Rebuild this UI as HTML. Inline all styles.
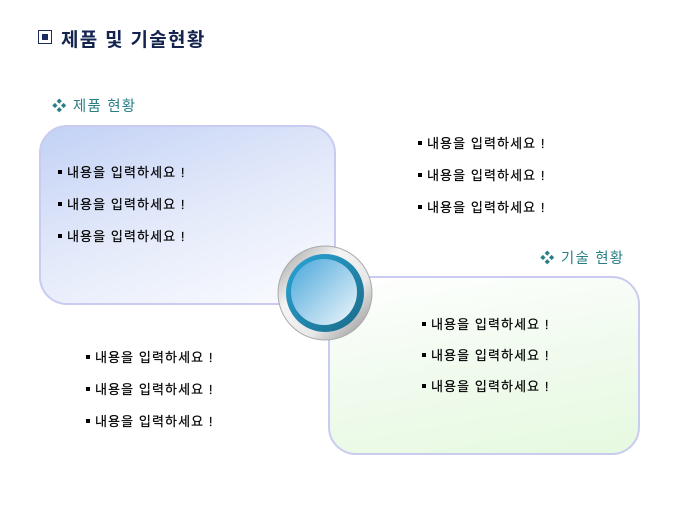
<!DOCTYPE html>
<html><head><meta charset="utf-8"><style>
body{margin:0;width:680px;height:510px;background:#fff;position:relative;overflow:hidden;font-family:"Liberation Sans","Noto Sans CJK KR","NanumGothic",sans-serif}
.t{position:absolute;font-size:13px;color:#000;white-space:nowrap;line-height:16px;letter-spacing:1.1px;-webkit-text-stroke:0.2px #000}
.t:before{content:"";display:inline-block;width:4px;height:4px;background:#000;margin-right:5px;vertical-align:3px}
.h{position:absolute;font-size:14.5px;color:#2a7f86;white-space:nowrap;letter-spacing:1.2px}
.box{position:absolute;border:2px solid #cacbf0;border-radius:28px;box-sizing:border-box}
</style></head><body>
<div style="position:absolute;left:38px;top:30px;width:14px;height:14px;border:1.5px solid #1a2d5c;box-sizing:border-box"><div style="position:absolute;left:2.5px;top:2.5px;width:6px;height:6px;background:#1a2d5c"></div></div>
<div style="position:absolute;left:61px;top:25px;font-size:19px;font-weight:bold;color:#14244f;letter-spacing:1.3px">제품 및 기술현황</div>
<div class="h" style="left:52px;top:95px">❖ 제품 현황</div>
<div class="h" style="left:540px;top:247px">❖ 기술 현황</div>
<div class="box" style="left:39px;top:125px;width:297px;height:180px;background:linear-gradient(160deg,#c2d1f5 0%,#e4eafa 50%,#fbfcff 100%)"></div>
<div class="box" style="left:328px;top:276px;width:312px;height:179px;background:linear-gradient(170deg,#ffffff 0%,#f0fbee 50%,#e6f9e0 100%)"></div>
<svg style="position:absolute;left:276px;top:244px" width="98" height="98">
<defs>
<linearGradient id="r" x1="0" y1="0" x2="1" y2="1"><stop offset="0" stop-color="#9a9a9a"/><stop offset=".35" stop-color="#f4f4f4"/><stop offset=".65" stop-color="#e8e8e8"/><stop offset="1" stop-color="#8a8a8a"/></linearGradient>
<linearGradient id="b" x1="0" y1="0" x2="1" y2="1"><stop offset="0" stop-color="#2aa5d8"/><stop offset="1" stop-color="#1a6a86"/></linearGradient>
<linearGradient id="c" x1="0" y1="0" x2="1" y2="1"><stop offset="0" stop-color="#4aa8dc"/><stop offset="1" stop-color="#f0f6fb"/></linearGradient>
</defs>
<circle cx="49" cy="49" r="47" fill="url(#r)"/>
<circle cx="49" cy="49" r="47" fill="none" stroke="#aaa" stroke-width="1"/>
<circle cx="49" cy="49" r="39" fill="url(#b)"/>
<circle cx="48" cy="48" r="33" fill="url(#c)"/>
</svg>
<div class="t" style="left:58px;top:165px">내용을 입력하세요 !</div>
<div class="t" style="left:58px;top:197px">내용을 입력하세요 !</div>
<div class="t" style="left:58px;top:229px">내용을 입력하세요 !</div>
<div class="t" style="left:418px;top:136px">내용을 입력하세요 !</div>
<div class="t" style="left:418px;top:168px">내용을 입력하세요 !</div>
<div class="t" style="left:418px;top:200px">내용을 입력하세요 !</div>
<div class="t" style="left:422px;top:317px">내용을 입력하세요 !</div>
<div class="t" style="left:422px;top:348px">내용을 입력하세요 !</div>
<div class="t" style="left:422px;top:379px">내용을 입력하세요 !</div>
<div class="t" style="left:86px;top:350px">내용을 입력하세요 !</div>
<div class="t" style="left:86px;top:382px">내용을 입력하세요 !</div>
<div class="t" style="left:86px;top:414px">내용을 입력하세요 !</div>
</body></html>
